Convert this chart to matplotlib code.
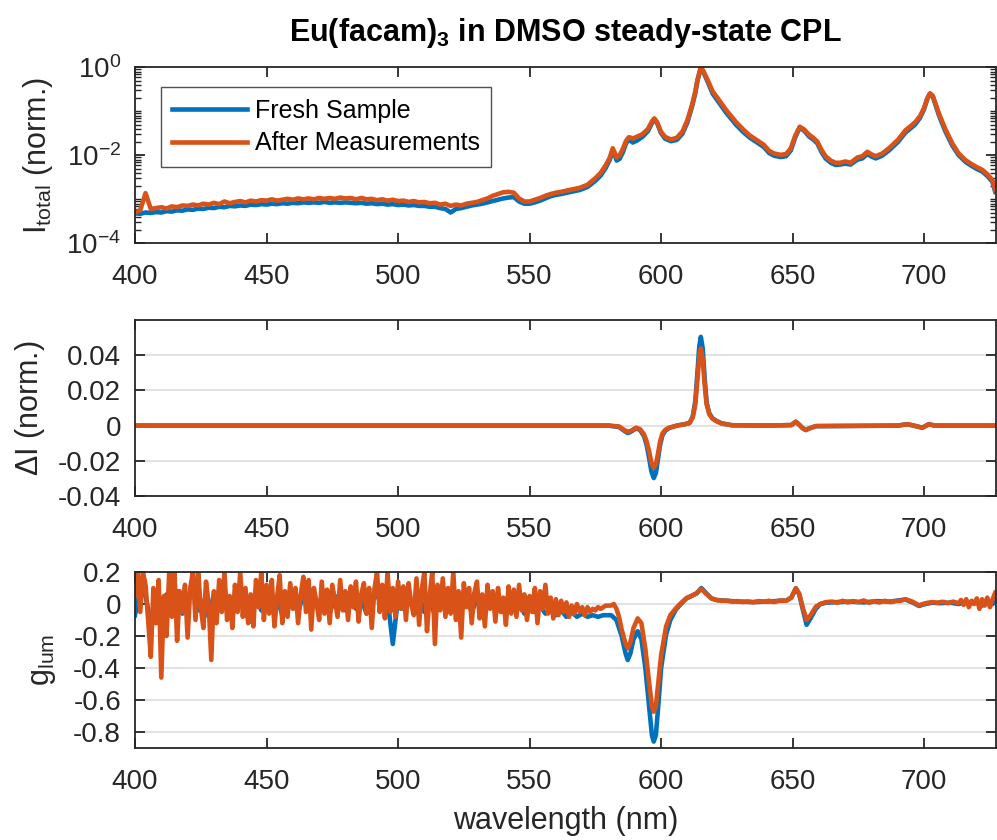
import numpy as np
import matplotlib
matplotlib.use('Agg')
import matplotlib.pyplot as plt
from matplotlib.ticker import LogLocator, NullFormatter, FuncFormatter

plt.rcParams['font.family'] = 'Liberation Sans'
plt.rcParams['mathtext.fontset'] = 'custom'
plt.rcParams['mathtext.rm'] = 'Liberation Sans'
plt.rcParams['mathtext.it'] = 'Liberation Sans:italic'
plt.rcParams['mathtext.bf'] = 'Liberation Sans:bold'
plt.rcParams['axes.unicode_minus'] = False

BLUE = '#0072BD'
ORANGE = '#D95319'
DARK = '#262626'

# ---- total intensity (log10 of normalised I), 400-560 nm every 2 nm ----
wl_tot_lo = np.arange(400, 561, 2)
logI_fresh_lo = [
    -3.32, -3.33, -3.30, -3.31, -3.29, -3.30, -3.27, -3.28, -3.25, -3.26,
    -3.23, -3.24, -3.21, -3.22, -3.19, -3.20, -3.17, -3.18, -3.15, -3.16,
    -3.14, -3.15, -3.12, -3.13, -3.11, -3.12, -3.10, -3.11, -3.09, -3.10,
    -3.08, -3.09, -3.07, -3.08, -3.07, -3.08, -3.06, -3.08, -3.07, -3.08,
    -3.07, -3.08, -3.09, -3.08, -3.10, -3.09, -3.11, -3.10, -3.12, -3.11,
    -3.13, -3.12, -3.14, -3.13, -3.15, -3.15, -3.17, -3.17, -3.20, -3.22,
    -3.30, -3.22, -3.20, -3.17, -3.14, -3.12, -3.10, -3.07, -3.04, -3.01,
    -2.98, -2.96, -2.95, -3.05, -3.10, -3.10, -3.07, -3.03, -2.98, -2.93,
    -2.90]
logI_after_lo = [
    -3.30, -3.25, -2.86, -3.22, -3.20, -3.18, -3.21, -3.16, -3.18, -3.14,
    -3.15, -3.12, -3.14, -3.10, -3.12, -3.08, -3.11, -3.05, -3.09, -3.06,
    -3.04, -3.07, -3.03, -3.05, -3.02, -3.03, -3.00, -3.03, -3.01, -2.99,
    -3.01, -2.98, -3.00, -2.98, -3.00, -2.97, -2.99, -2.97, -2.99, -2.96,
    -2.98, -2.97, -3.00, -2.97, -3.00, -2.99, -3.02, -3.00, -3.03, -3.01,
    -3.04, -3.03, -3.06, -3.04, -3.07, -3.06, -3.09, -3.08, -3.12, -3.10,
    -3.15, -3.12, -3.14, -3.10, -3.08, -3.06, -3.02, -2.98, -2.92, -2.88,
    -2.84, -2.83, -2.85, -2.98, -3.05, -3.05, -3.01, -2.97, -2.92, -2.88,
    -2.85]

# ---- total intensity, 562-727 nm (peak region) ----
wl_tot_hi = [562, 565, 569, 572, 575, 577, 579, 580.5, 581.6, 582.3,
             583.1, 584.2, 585.4, 586.6, 587.7, 588.5, 589.2, 591, 592.9, 595,
             596.5, 597.4, 598.5, 599.9, 601.5, 603.7, 606, 608.1, 610, 611.9,
             613, 613.8, 615.1, 616, 617.7, 619.6, 621.5, 624.7, 628.4, 631,
             633.5, 637.3, 639, 641.1, 643, 645.5, 647.5, 649.3, 651, 652.7,
             654.5, 656.2, 657.8, 659.4, 661, 662.5, 664.5, 666.3, 668, 670.1,
             672, 674.6, 676.5, 678.4, 680, 681.6, 684, 686.6, 690, 692.9,
             695, 696.7, 698.5, 699.9, 701.2, 702.2, 703.3, 705.6, 708, 710.7,
             713, 715.7, 718, 720, 722.1, 724, 725.9, 727]
logI_after_hi = [-2.83, -2.79, -2.74, -2.67, -2.52, -2.40, -2.22, -2.05, -1.84, -1.93,
                 -2.05, -2.00, -1.86, -1.68, -1.59, -1.60, -1.62, -1.57, -1.52, -1.40,
                 -1.23, -1.16, -1.25, -1.46, -1.58, -1.64, -1.60, -1.46, -1.20, -0.82,
                 -0.55, -0.29, 0.00, -0.08, -0.29, -0.55, -0.70, -0.97, -1.24, -1.40,
                 -1.54, -1.69, -1.76, -1.90, -1.96, -1.99, -1.97, -1.84, -1.55, -1.35,
                 -1.42, -1.53, -1.60, -1.69, -1.88, -2.02, -2.12, -2.17, -2.17, -2.14,
                 -2.17, -2.05, -2.02, -1.92, -1.98, -2.02, -1.96, -1.84, -1.65, -1.43,
                 -1.33, -1.24, -1.10, -0.93, -0.70, -0.59, -0.65, -1.05, -1.40, -1.73,
                 -1.95, -2.11, -2.20, -2.27, -2.33, -2.43, -2.56, -2.79]
logI_fresh_hi = [-2.88, -2.84, -2.79, -2.72, -2.58, -2.46, -2.28, -2.10, -1.90, -1.98,
                 -2.12, -2.08, -1.94, -1.74, -1.63, -1.67, -1.71, -1.66, -1.58, -1.45,
                 -1.27, -1.18, -1.27, -1.49, -1.62, -1.68, -1.65, -1.51, -1.25, -0.86,
                 -0.58, -0.31, 0.00, -0.10, -0.33, -0.60, -0.76, -1.03, -1.30, -1.46,
                 -1.59, -1.74, -1.81, -1.95, -2.01, -2.04, -2.02, -1.89, -1.59, -1.37,
                 -1.45, -1.57, -1.64, -1.73, -1.93, -2.07, -2.17, -2.22, -2.21, -2.19,
                 -2.21, -2.10, -2.07, -1.97, -2.03, -2.07, -2.01, -1.89, -1.70, -1.48,
                 -1.38, -1.29, -1.14, -0.96, -0.72, -0.60, -0.67, -1.09, -1.45, -1.78,
                 -1.99, -2.15, -2.24, -2.31, -2.37, -2.47, -2.60, -2.83]

# ---- Delta I (norm.) ----
wl_dI = [400, 580, 584, 586, 587.3, 588.5, 590.5, 592, 593.5, 594.5,
         595.5, 596.3, 597.2, 598, 598.8, 599.6, 600.5, 601.5, 603, 606,
         609, 610.8, 612, 613, 613.8, 614.5, 615.1, 615.8, 616.5, 617.3,
         618.3, 619.5, 621, 623, 627, 640, 649.5, 651.2, 652.5, 653.8,
         655, 656.5, 658.8, 690, 693.6, 696, 699.3, 701.8, 704, 727]
dI_fresh = [0, 0, -0.0008, -0.003, -0.0042, -0.0035, -0.0015, -0.0025, -0.006, -0.011,
            -0.019, -0.026, -0.0298, -0.027, -0.019, -0.011, -0.0055, -0.003, -0.0014, 0.0,
            0.0008, 0.0015, 0.005, 0.014, 0.030, 0.045, 0.0504, 0.044, 0.028, 0.013,
            0.007, 0.0042, 0.0027, 0.0013, 0.0002, 0.0, 0.0003, 0.0022, 0.0005, -0.0015,
            -0.0025, -0.0015, -0.0003, 0.0, 0.0008, 0.0, -0.0012, 0.0008, 0.0, 0.0]
dI_after = [0, 0, -0.0005, -0.0025, -0.0035, -0.003, -0.0012, -0.002, -0.005, -0.009,
            -0.015, -0.021, -0.024, -0.022, -0.016, -0.009, -0.0045, -0.0025, -0.0012, 0.0,
            0.0008, 0.0015, 0.0045, 0.012, 0.026, 0.039, 0.0438, 0.038, 0.024, 0.012,
            0.0065, 0.004, 0.0025, 0.0012, 0.0002, 0.0, 0.0003, 0.0022, 0.0005, -0.0015,
            -0.0025, -0.0015, -0.0003, 0.0, 0.0008, 0.0, -0.0012, 0.0008, 0.0, 0.0]

# ---- g_lum, noisy part ----
wl_g_after_lo = np.arange(400, 581, 1)
g_after_lo = [
    0.05, 0.20, -0.05, 0.20, 0.12, -0.10, -0.33, 0.10, -0.12, 0.15,
    -0.46, 0.05, -0.20, 0.20, -0.08, 0.20, -0.23, 0.08, -0.05, 0.12,
    -0.21, 0.10, 0.20, -0.10, 0.20, -0.02, -0.15, 0.14, 0.00, -0.35,
    0.08, -0.12, 0.15, -0.05, 0.20, -0.10, 0.05, -0.15, 0.12, -0.05,
    0.20, -0.08, 0.10, -0.12, 0.06, -0.14, 0.15, -0.02, 0.20, -0.10,
    0.12, -0.06, 0.15, -0.14, 0.04, 0.18, -0.12, 0.08, -0.08, 0.13,
    -0.03, 0.10, -0.12, 0.06, 0.17, -0.05, 0.15, -0.16, 0.10, 0.01,
    -0.10, 0.14, -0.06, 0.09, -0.12, 0.12, 0.02, -0.08, 0.15, -0.04,
    0.08, -0.10, 0.11, -0.02, 0.14, -0.11, 0.06, 0.13, -0.06, 0.10,
    -0.15, 0.09, 0.20, -0.05, 0.12, -0.09, 0.20, -0.05, 0.10, -0.08,
    0.14, -0.03, 0.11, -0.10, 0.13, 0.00, -0.07, 0.16, -0.13, 0.09,
    0.20, -0.17, 0.05, 0.20, -0.25, 0.12, -0.04, 0.16, -0.08, 0.10,
    -0.06, 0.20, -0.10, 0.08, -0.21, 0.13, -0.02, 0.10, -0.12, 0.07,
    0.14, -0.09, 0.06, -0.14, 0.12, -0.03, 0.08, -0.11, 0.10, -0.05,
    0.04, -0.13, 0.11, -0.06, 0.09, -0.08, 0.12, -0.04, 0.06, -0.10,
    0.05, -0.05, 0.10, -0.12, 0.08, -0.03, 0.12, -0.06, 0.04, -0.09,
    0.03, -0.07, 0.02, -0.05, 0.01, -0.08, -0.01, -0.06, 0.00, -0.05,
    -0.02, -0.07, -0.02, -0.05, -0.03, -0.04, -0.02, -0.03, -0.02, -0.01,
    -0.01]
wl_g_fresh_lo = np.arange(400, 581, 2)
g_fresh_lo = [
    -0.07, 0.10, 0.05, -0.12, 0.03, -0.10, 0.06, -0.05, 0.08, -0.06,
    0.04, 0.10, -0.04, 0.02, -0.08, 0.06, -0.03, 0.08, -0.05, 0.04,
    0.07, -0.06, -0.11, 0.05, -0.04, 0.06, -0.03, 0.04, -0.07, 0.02,
    0.05, -0.06, 0.07, -0.02, 0.04, -0.05, 0.03, -0.06, 0.05, 0.02,
    -0.04, 0.05, -0.03, 0.03, -0.06, 0.02, 0.06, -0.02, 0.03, -0.25,
    0.04, -0.03, 0.05, -0.04, 0.06, -0.05, 0.03, -0.07, 0.04, -0.02,
    0.05, -0.06, -0.03, 0.04, -0.05, 0.03, -0.04, 0.05, -0.02, 0.03,
    -0.05, 0.02, -0.04, 0.03, -0.06, -0.02, -0.05, -0.01, -0.06, -0.03,
    -0.07, -0.04, -0.08, -0.05, -0.08, -0.06, -0.08, -0.07, -0.08, -0.07,
    -0.07]

# ---- g_lum, band region ----
wl_g_fresh_hi = [581, 583, 585, 586.5, 587.3, 588.3, 589.5, 591.1, 592.5, 594,
                 595.5, 596.5, 597.2, 598, 599, 600, 601.9, 603.5, 605.6, 607.5,
                 609.6, 611.5, 613.4, 615.3, 617, 619.1, 621, 624.8, 630, 635,
                 640, 645, 647.6, 649.5, 651.2, 652.5, 653.8, 655.3, 656.8, 658.8,
                 660.5, 662.7, 667, 672, 677, 682, 687, 692.9, 695.5, 698,
                 700.5, 703, 706, 710, 713, 716, 718, 720, 722, 724,
                 726, 727]
g_fresh_hi = [-0.07, -0.10, -0.20, -0.31, -0.35, -0.31, -0.22, -0.17, -0.22, -0.40,
              -0.65, -0.82, -0.86, -0.82, -0.62, -0.40, -0.19, -0.10, -0.035, 0.0,
              0.035, 0.05, 0.065, 0.10, 0.07, 0.035, 0.025, 0.02, 0.015, 0.012,
              0.015, 0.02, 0.022, 0.04, 0.098, 0.06, -0.03, -0.13, -0.09, -0.03,
              0.0, 0.008, 0.012, 0.015, 0.01, 0.018, 0.015, 0.028, 0.01, -0.012,
              0.0, 0.008, 0.005, 0.008, 0.0, 0.01, 0.005, 0.012, -0.01, 0.02,
              0.0, 0.05]
wl_g_after_hi = [581, 582, 583, 584, 585, 586.5, 587.3, 588.3, 589.5, 591.1,
                 592.5, 594, 595.5, 596.5, 597.2, 598, 599, 600, 601.9, 603.5,
                 605.6, 607.5, 609.6, 611.5, 613.4, 615.3, 617, 619.1, 621, 623,
                 625, 627, 629, 631, 633, 635, 637, 639, 641, 643,
                 645, 647.6, 649.5, 651.2, 652.5, 653.8, 655.3, 656.8, 658.8, 660.5,
                 662.7, 665, 667, 669, 671, 673, 675, 677, 679, 681,
                 683, 685, 687, 689, 691, 692.9, 695.5, 698, 700.5, 703,
                 705, 707, 709, 711, 713, 714, 715, 716, 717, 718,
                 719, 720, 721, 722, 723, 724, 725, 726, 727]
g_after_hi = [-0.01, 0.0, -0.03, -0.08, -0.16, -0.25, -0.277, -0.24, -0.15, -0.09,
              -0.12, -0.28, -0.50, -0.64, -0.673, -0.64, -0.48, -0.32, -0.14, -0.07,
              -0.027, 0.005, 0.036, 0.05, 0.067, 0.095, 0.065, 0.036, 0.025, 0.02,
              0.022, 0.015, 0.018, 0.012, 0.016, 0.01, 0.018, 0.015, 0.02, 0.012,
              0.022, 0.02, 0.04, 0.098, 0.065, -0.02, -0.10, -0.07, -0.017, 0.0,
              0.012, 0.015, 0.008, 0.02, 0.01, 0.018, 0.012, 0.022, 0.008, 0.016,
              0.01, 0.02, 0.012, 0.018, 0.02, 0.03, 0.015, -0.008, 0.005, 0.012,
              0.008, 0.014, 0.006, 0.015, 0.005, 0.025, -0.005, 0.03, -0.02, 0.02,
              0.0, 0.035, -0.03, 0.03, -0.01, 0.04, -0.02, 0.03, 0.07]

wl_tot = np.concatenate([wl_tot_lo, wl_tot_hi])
I_fresh = 10.0 ** np.concatenate([logI_fresh_lo, logI_fresh_hi])
I_after = 10.0 ** np.concatenate([logI_after_lo, logI_after_hi])
wl_g_fresh = np.concatenate([wl_g_fresh_lo, wl_g_fresh_hi])
g_fresh = np.concatenate([g_fresh_lo, g_fresh_hi])
wl_g_after = np.concatenate([wl_g_after_lo, wl_g_after_hi])
g_after = np.concatenate([g_after_lo, g_after_hi])

W, H = 997, 840
fig = plt.figure(figsize=(W / 100, H / 100), dpi=100)


def px_axes(top, bottom, left=135, right=996):
    return fig.add_axes([left / W, 1 - bottom / H, (right - left) / W, (bottom - top) / H])


def style(ax):
    ax.set_xlim(400, 727.3)
    ax.set_xticks(range(400, 701, 50))
    ax.tick_params(direction='in', length=7, width=1.3, top=True, right=True,
                   labelsize=20, colors=DARK)
    ax.tick_params(axis='x', pad=15)
    ax.tick_params(axis='y', pad=10)
    for s in ax.spines.values():
        s.set_linewidth(1.3)
        s.set_color(DARK)


lw = 3.3
gfmt = FuncFormatter(lambda v, p: '%g' % round(v, 6))

# top panel
ax1 = px_axes(67.3, 243.3)
ax1.semilogy(wl_tot, I_fresh, color=BLUE, lw=lw, label='Fresh Sample')
ax1.semilogy(wl_tot, I_after, color=ORANGE, lw=lw, label='After Measurements')
style(ax1)
ax1.set_ylim(1e-4, 1)
ax1.set_yticks([1e-4, 1e-2, 1])
ax1.yaxis.set_minor_locator(LogLocator(base=10, subs=np.arange(1, 10), numticks=20))
ax1.yaxis.set_minor_formatter(NullFormatter())
ax1.tick_params(which='minor', direction='in', length=4, width=1.0, right=True, colors=DARK)
ax1.set_ylabel(r'I$_{\mathrm{total}}$ (norm.)', fontsize=22, color=DARK)
ax1.yaxis.set_label_coords(-0.093, 0.5)
ax1.set_title(r'Eu(facam)$_{\mathbf{3}}$ in DMSO steady-state CPL',
              fontsize=22, fontweight='bold', color='black', pad=19)
leg = ax1.legend(loc='upper left', bbox_to_anchor=(0.0302, 0.886), borderaxespad=0,
                 fontsize=18, frameon=True, fancybox=False, handlelength=3.0,
                 handletextpad=0.3, labelspacing=0.35, borderpad=0.45)
leg.get_frame().set_edgecolor(DARK)
leg.get_frame().set_linewidth(1.0)
for l in leg.get_lines():
    l.set_linewidth(lw)

# middle panel
ax2 = px_axes(320, 496)
ax2.plot(wl_dI, dI_fresh, color=BLUE, lw=lw)
ax2.plot(wl_dI, dI_after, color=ORANGE, lw=lw)
style(ax2)
ax2.set_ylim(-0.04, 0.06)
ax2.set_yticks([-0.04, -0.02, 0, 0.02, 0.04])
ax2.yaxis.set_major_formatter(gfmt)
ax2.yaxis.grid(True, color='#dfdfdf', lw=1.3)
ax2.set_axisbelow(True)
ax2.set_ylabel(r'$\Delta$I (norm.)', fontsize=22, color=DARK)
ax2.yaxis.set_label_coords(-0.102, 0.5)

# bottom panel
ax3 = px_axes(572, 748)
ax3.plot(wl_g_fresh, g_fresh, color=BLUE, lw=lw)
ax3.plot(wl_g_after, g_after, color=ORANGE, lw=lw)
style(ax3)
ax3.set_ylim(-0.9, 0.2)
ax3.set_yticks([-0.8, -0.6, -0.4, -0.2, 0, 0.2])
ax3.yaxis.set_major_formatter(gfmt)
ax3.yaxis.grid(True, color='#dfdfdf', lw=1.3)
ax3.set_axisbelow(True)
ax3.set_ylabel(r'g$_{\mathrm{lum}}$', fontsize=22, color=DARK)
ax3.yaxis.set_label_coords(-0.089, 0.5)
ax3.set_xlabel('wavelength (nm)', fontsize=22, color=DARK, labelpad=8)

fig.savefig('out.png', dpi=100)
